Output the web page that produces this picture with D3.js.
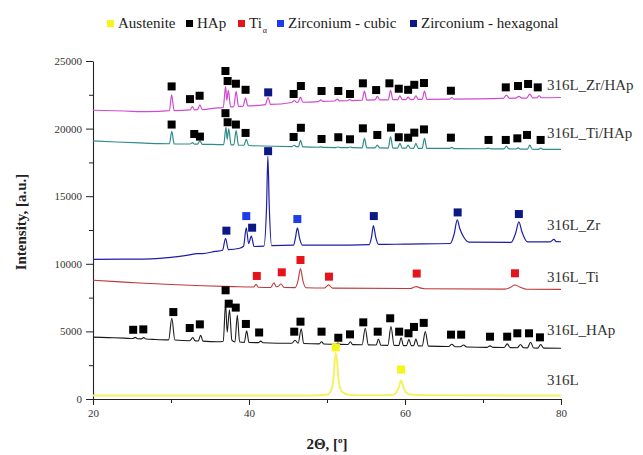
<!DOCTYPE html>
<html>
<head>
<meta charset="utf-8">
<script src="https://cdn.jsdelivr.net/npm/d3@7"></script>
<style>
  body { margin: 0; background: #fff; }
</style>
</head>
<body>
<svg id="drawing_region"></svg>
<script>
// diffractograms, [2theta, intensity]
var trace316L = [
  [20,260],[35,250],[48,260],[50.0,320],[50.5,600],[50.8,1400],[51.0,2900],[51.12,3380],[51.28,2900],
  [51.5,1300],[51.9,550],[52.7,320],[55,270],[58.4,300],[58.9,500],[59.25,950],[59.5,1360],[59.75,950],
  [60.1,500],[60.8,310],[65,270],[80,260]
];
var traceHAp = [
  [20,4580],[22,4540],[24,4500],[25.1,4470],[25.4,4560],[25.7,4460],[26.2,4450],[26.5,4540],[26.8,4440],
  [28,4400],[29.7,4370],[30.1,5960],[30.5,4360],[32.4,4310],[32.8,4540],[33.1,4300],[33.5,4290],[33.8,4720],
  [34.1,4280],[36.0,4230],[36.7,4270],[37.0,7100],[37.2,4950],[37.5,6600],[37.8,4360],[38.2,4220],[38.5,6200],
  [38.8,4220],[39.4,4190],[39.7,5050],[40.0,4180],[41.2,4170],[41.5,4280],[41.8,4160],[45.5,4120],[45.9,4350],
  [46.3,4120],[46.7,5200],[47.0,4110],[49.0,4080],[49.3,4240],[49.6,4070],[51.1,4050],[51.4,4140],[51.7,4040],
  [52.7,4030],[53.0,4240],[53.3,4020],[54.5,4010],[54.9,5230],[55.3,4000],[56.3,3990],[56.6,4440],[56.9,3980],
  [57.8,3970],[58.2,5350],[58.6,3970],[59.2,3960],[59.5,4530],[59.8,3950],[60.2,3950],[60.5,4410],[60.8,3950],
  [61.1,3940],[61.4,4430],[61.7,3930],[62.2,3920],[62.6,4980],[63.0,3910],[65.6,3880],[66.0,4050],[66.4,3870],
  [67.1,3860],[67.5,3990],[67.9,3850],[70.5,3820],[70.9,3930],[71.3,3820],[72.7,3810],[73.1,4080],[73.5,3800],
  [74.4,3790],[74.8,4030],[75.2,3790],[75.7,3780],[76.1,4200],[76.5,3770],[77.0,3760],[77.4,4020],[77.8,3760],
  [80,3750]
];
var traceTi = [
  [20,8780],[23,8680],[26,8580],[30,8470],[34,8380],[38,8310],[40.6,8280],[40.9,8480],[41.2,8270],
  [42.8,8250],[43.2,8600],[43.5,8300],[43.7,8320],[44.1,8510],[44.5,8250],[45.9,8240],[46.3,8780],[46.6,9650],
  [46.9,8780],[47.3,8230],[49.7,8210],[50.2,8440],[50.7,8200],[60.7,8170],[61.2,8280],[61.5,8310],[61.9,8220],
  [62.5,8160],[72.8,8130],[73.6,8280],[74.1,8430],[74.7,8290],[75.6,8120],[80,8110]
];
var traceZr = [
  [20,10320],[24,10340],[27.5,10370],[30,10480],[32,10620],[33.4,10760],[34,10760],[35.7,10920],
  [36.6,11000],[37.0,11880],[37.35,11050],[38.8,11150],[39.3,11300],[39.65,12660],[39.95,11500],[40.3,12050],
  [40.65,11280],[41.9,11300],[42.25,14200],[42.42,17950],[42.6,14200],[42.9,11350],[45.7,11380],[45.95,11900],
  [46.2,12650],[46.5,11850],[46.85,11380],[50.5,11380],[55.4,11420],[55.7,11950],[55.95,12820],[56.25,11950],
  [56.6,11430],[60,11460],[65.8,11500],[66.3,12200],[66.7,13250],[67.0,12650],[67.5,12000],[68.2,11600],
  [73.6,11580],[74.2,12300],[74.6,13100],[75.0,12350],[75.7,11620],[78.6,11620],[79.1,11800],[79.4,11640],
  [80,11630]
];
var traceTiHAp = [
  [20,19090],[23,19010],[26,18940],[28.5,18890],[29.8,18880],[30.1,19800],[30.4,18870],[32.45,18860],
  [32.75,18960],[33.0,18850],[33.4,18850],[33.7,19090],[34.0,18840],[36.0,18820],[36.75,18810],[37.05,20100],
  [37.2,19200],[37.4,19980],[37.7,18800],[38.05,18790],[38.35,19850],[38.65,18780],[39.35,18770],[39.65,19200],
  [39.95,18750],[45.5,18670],[45.8,18770],[46.1,18660],[46.35,18660],[46.6,19140],[46.9,18650],[48.9,18620],
  [49.2,18650],[49.5,18610],[51.1,18600],[51.4,18640],[51.7,18600],[52.7,18595],[53.0,18640],[53.3,18590],
  [54.5,18580],[54.8,19280],[55.1,18580],[56.15,18570],[56.45,18780],[56.75,18570],[57.85,18560],[58.15,19400],
  [58.45,18560],[59.05,18555],[59.35,18900],[59.65,18550],[60.1,18550],[60.4,18780],[60.7,18545],[61.1,18540],
  [61.4,18900],[61.7,18540],[62.2,18540],[62.5,19280],[62.8,18535],[65.7,18530],[66.0,18610],[66.3,18525],
  [70.4,18510],[70.7,18560],[71.0,18505],[72.7,18500],[73.0,18700],[73.3,18495],[74.2,18490],[74.5,18580],
  [74.8,18485],[75.7,18480],[76.0,18780],[76.3,18475],[77.1,18470],[77.4,18560],[77.7,18465],[80,18460]
];
var traceZrHAp = [
  [20,21360],[24,21300],[27,21250],[29.8,21330],[30.08,22500],[30.4,21330],[32.45,21380],[32.75,21635],
  [33.0,21390],[33.4,21400],[33.7,21760],[34.0,21410],[36.0,21530],[36.7,21550],[37.0,23120],[37.15,22100],
  [37.35,22820],[37.65,21600],[38.05,21620],[38.35,22750],[38.65,21640],[39.25,21660],[39.55,22280],[39.85,21680],
  [42.1,21780],[42.45,22300],[42.75,21790],[45.5,21930],[45.8,22080],[46.1,21940],[46.3,21950],[46.6,22330],
  [46.9,21950],[48.9,22000],[49.2,22130],[49.5,22010],[51.0,22040],[51.3,22180],[51.6,22050],[52.6,22060],
  [52.9,22150],[53.2,22070],[54.5,22100],[54.8,22775],[55.1,22110],[56.15,22120],[56.45,22380],[56.75,22130],
  [57.85,22130],[58.15,22825],[58.45,22140],[59.05,22140],[59.35,22430],[59.65,22145],[60.1,22150],[60.4,22330],
  [60.7,22150],[61.1,22155],[61.4,22430],[61.7,22155],[62.2,22160],[62.5,22775],[62.8,22165],[65.7,22180],
  [66.0,22300],[66.3,22180],[72.6,22230],[73.0,22480],[73.4,22240],[74.2,22250],[74.6,22380],[75.0,22250],
  [75.6,22260],[76.0,22550],[76.4,22270],[76.9,22280],[77.2,22430],[77.5,22280],[80,22300]
];

// phase markers, [2theta, intensity]
var austeniteMarks = [[51.12,3820],[59.5,2180]];
var hapMarks = [
  [25.15,5120],[26.45,5150],[30.3,6430],[32.4,5250],[33.7,5520],[37.0,8040],[37.4,7050],[38.3,6760],[39.6,5550],
  [41.3,4920],[45.8,4980],[46.6,5720],[49.3,4980],[51.45,4530],[52.95,4780],[54.65,5670],[56.5,4980],[58.1,5970],
  [59.25,4980],[60.45,4860],[61.15,5330],[62.4,5630],[65.9,4760],[67.2,4760],[70.9,4610],[73.1,4610],[74.4,4860],
  [75.9,4860],[77.3,4560],
  [30.08,20300],[32.98,19600],[33.71,19410],[36.98,21140],[37.26,20470],[38.32,20300],[39.56,19680],[45.72,19380],
  [46.65,20060],[49.3,19230],[51.45,19360],[52.95,19210],[54.6,20020],[56.45,19530],[58.2,20070],[59.2,19360],
  [60.4,19330],[61.19,19700],[62.43,19940],[65.88,19330],[70.71,19160],[72.92,19160],[74.4,19280],[75.64,19530],
  [77.39,19160],
  [30.08,23120],[32.43,22180],[33.67,22430],[36.98,24260],[37.26,23520],[38.32,23320],[39.56,22870],[45.72,22560],
  [46.65,23150],[49.3,22780],[51.45,22780],[52.95,22560],[54.6,23350],[56.3,22850],[58.0,23350],[59.2,22950],
  [60.4,22870],[61.19,23240],[62.43,23370],[65.88,22800],[72.92,23050],[74.49,23150],[75.78,23300],[77.02,23050]
];
var tiMarks = [[41.0,9100],[44.2,9370],[46.6,10280],[50.25,9050],[61.5,9280],[74.1,9300]];
var zrCubicMarks = [[39.65,13530],[46.2,13310]];
var zrHexMarks = [[37.1,12450],[40.4,12670],[42.45,18330],[56.0,13530],[66.75,13800],[74.6,13680],[42.46,22680]];

var seriesNames = ['316L', '316L_HAp', '316L_Ti', '316L_Zr', '316L_Ti/HAp', '316L_Zr/HAp'];
var labelLevels = [1400, 5100, 9020, 12870, 19675, 23225];

var legendNames = ['Austenite', 'HAp', 'Ti', 'Zirconium - cubic', 'Zirconium - hexagonal'];
var xTicks = [20, 30, 40, 50, 60, 70, 80];
var xTickLabels = [20, 40, 60, 80];
var yTicks = [0, 5000, 10000, 15000, 20000, 25000];

var config = {
  parent: '#drawing_region',
  width: 643,
  height: 455,
  margin: {top: 61, right: 82, bottom: 56, left: 93}
};
const SERIF = '"Liberation Serif", "DejaVu Serif", serif';

class XrdChart {
  constructor(config) {
    this.config = config;
    this.init();
  }
  init() {
    let self = this;
    self.svg = d3.select(self.config.parent)
      .attr('width', self.config.width)
      .attr('height', self.config.height)
      .attr('font-family', SERIF);
    self.chart = self.svg.append('g')
      .attr('transform', `translate(${self.config.margin.left}, ${self.config.margin.top})`);
    self.inner_width = self.config.width - self.config.margin.left - self.config.margin.right;
    self.inner_height = self.config.height - self.config.margin.top - self.config.margin.bottom;

    self.xscale = d3.scaleLinear().domain([20, 80]).range([0, self.inner_width]);
    self.yscale = d3.scaleLinear().domain([0, 25000]).range([self.inner_height, 0]);
  }
  render() {
    let self = this;
    const x = self.xscale, y = self.yscale;

    // minor ticks first, then the labelled axes
    self.chart.append('g')
      .attr('transform', `translate(0, ${self.inner_height})`)
      .call(d3.axisBottom(x).tickValues(xTicks.filter(d => !xTickLabels.includes(d))).tickFormat('').tickSize(4).tickSizeOuter(0))
      .call(g => g.select('.domain').remove());
    self.chart.append('g')
      .call(d3.axisLeft(y).tickValues(d3.range(2500, 25000, 5000)).tickFormat('').tickSize(4).tickSizeOuter(0))
      .call(g => g.select('.domain').remove());

    const xaxis = self.chart.append('g')
      .attr('transform', `translate(0, ${self.inner_height})`)
      .call(d3.axisBottom(x).tickValues(xTickLabels).tickFormat(d3.format('d')).tickSize(6).tickSizeOuter(0).tickPadding(4));
    const yaxis = self.chart.append('g')
      .call(d3.axisLeft(y).tickValues(yTicks).tickFormat(d3.format('d')).tickSize(7).tickSizeOuter(0).tickPadding(4));
    [xaxis, yaxis].forEach(a => {
      a.attr('font-family', SERIF);
      a.select('.domain').attr('stroke', '#222').attr('stroke-width', 1.1);
      a.selectAll('text').attr('font-size', 11).attr('fill', '#333');
    });
    self.chart.selectAll('.tick line').attr('stroke', '#222');

    const traces = [
      {data: trace316L, color: '#f4f263', width: 2},
      {data: traceHAp, color: '#1a1a1a', width: 1.1},
      {data: traceTi, color: '#bd3a3c', width: 1.1},
      {data: traceZr, color: '#1e1ea6', width: 1.2},
      {data: traceTiHAp, color: '#2f8c8a', width: 1.2},
      {data: traceZrHAp, color: '#d04ad0', width: 1.2}
    ];
    const line = d3.line()
      .x(d => x(d[0]))
      .y(d => y(d[1]))
      .curve(d3.curveMonotoneX);
    self.chart.selectAll('path.trace')
      .data(traces)
      .enter()
      .append('path')
      .attr('class', 'trace')
      .attr('fill', 'none')
      .attr('stroke', d => d.color)
      .attr('stroke-width', d => d.width)
      .attr('stroke-linejoin', 'round')
      .attr('d', d => line(d.data));

    const marks = [
      {data: austeniteMarks, color: '#f5f51a'},
      {data: hapMarks, color: '#000000'},
      {data: tiMarks, color: '#e5141c'},
      {data: zrCubicMarks, color: '#1f3de6'},
      {data: zrHexMarks, color: '#0c1884'}
    ];
    const s = 8;
    marks.forEach(m => {
      self.chart.append('g')
        .selectAll('rect')
        .data(m.data)
        .enter()
        .append('rect')
        .attr('x', d => x(d[0]) - s / 2)
        .attr('y', d => y(d[1]) - s / 2)
        .attr('width', s)
        .attr('height', s)
        .attr('fill', m.color);
    });

    self.chart.selectAll('text.series')
      .data(seriesNames)
      .enter()
      .append('text')
      .attr('class', 'series')
      .attr('x', x(78.2))
      .attr('y', (d, i) => y(labelLevels[i]))
      .attr('dy', '0.35em')
      .attr('font-size', 15)
      .attr('fill', '#333')
      .text(d => d);

    // axis titles
    self.svg.append('text')
      .attr('transform', `translate(26, ${self.config.margin.top + self.inner_height / 2 - 8}) rotate(-90)`)
      .attr('text-anchor', 'middle')
      .attr('font-size', 15)
      .attr('font-weight', 'bold')
      .attr('fill', '#222')
      .text('Intensity, [a.u.]');
    const xt = self.svg.append('text')
      .attr('x', self.config.margin.left + self.inner_width / 2)
      .attr('y', 449)
      .attr('text-anchor', 'middle')
      .attr('font-size', 15)
      .attr('font-weight', 'bold')
      .attr('fill', '#222');
    xt.append('tspan').text('2\u0398, [');
    xt.append('tspan').attr('font-size', 9).attr('dy', -6).text('o');
    xt.append('tspan').attr('dy', 6).text(']');

    // legend along the top
    const legendX = [107, 186, 238, 277, 410];
    const legend = self.svg.append('g').attr('transform', 'translate(0, 20)');
    legend.selectAll('rect')
      .data(marks)
      .enter()
      .append('rect')
      .attr('x', (d, i) => legendX[i])
      .attr('y', 0)
      .attr('width', 7)
      .attr('height', 7)
      .attr('fill', d => d.color);
    const lt = legend.selectAll('text')
      .data(legendNames)
      .enter()
      .append('text')
      .attr('x', (d, i) => legendX[i] + 11)
      .attr('y', 8)
      .attr('font-size', 15)
      .attr('fill', '#222')
      .text(d => d);
    lt.filter(d => d === 'Ti')
      .append('tspan')
      .attr('font-size', 8)
      .attr('dy', 5)
      .attr('dx', 1)
      .text('\u03b1');
  }
}

const chart = new XrdChart(config);
chart.render();
</script>
</body>
</html>
